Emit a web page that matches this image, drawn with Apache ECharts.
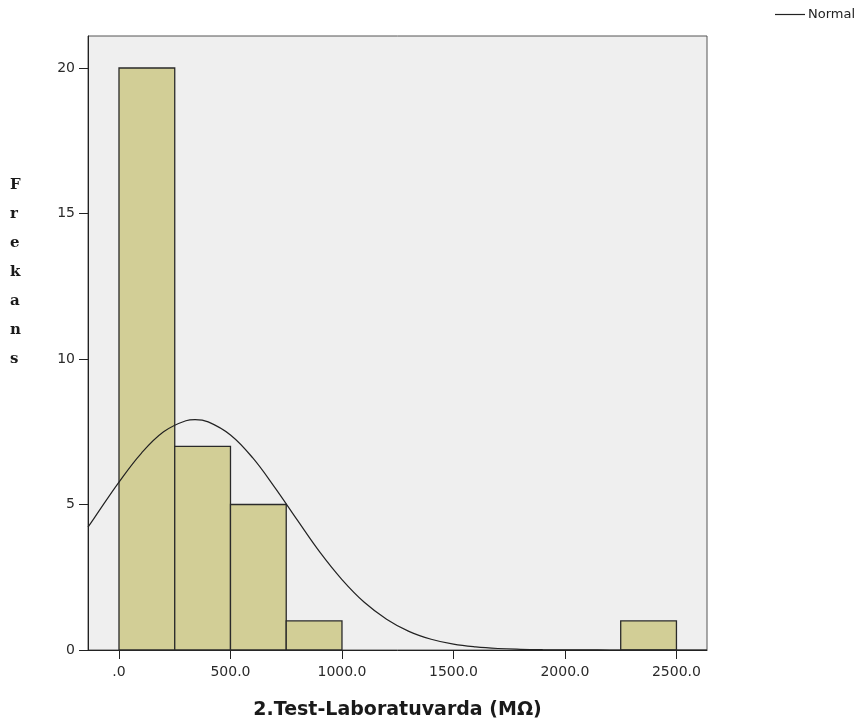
<!DOCTYPE html>
<html><head><meta charset="utf-8">
<script src="https://cdn.jsdelivr.net/npm/echarts@6/dist/echarts.min.js"></script>
<style>html,body{margin:0;padding:0;background:#fff}#c{width:856px;height:724px}</style>
</head><body><div id="c"></div>
<script>
// Histogram bins (MΩ) and frequencies
var binStart = [0, 250, 500, 750, 2250];
var binEnd   = [250, 500, 750, 1000, 2500];
var counts   = [20, 7, 5, 1, 1];
// Normal curve
var curveX = [-139, -100, 0, 100, 200, 300, 341, 400, 500, 600, 700, 800, 900, 1000, 1100, 1200, 1300, 1400, 1500, 1600, 1700, 1800, 1900, 2000, 2100, 2200, 2400, 2637];
var curveY = [4.22, 4.66, 5.77, 6.76, 7.50, 7.88, 7.92, 7.84, 7.39, 6.60, 5.57, 4.46, 3.37, 2.42, 1.64, 1.06, 0.64, 0.37, 0.20, 0.105, 0.051, 0.024, 0.010, 0.004, 0.0016, 0.0006, 0.0001, 0];
var xTicks = [0, 500, 1000, 1500, 2000, 2500];
var yTicks = [0, 5, 10, 15, 20];

var FONT = 'DejaVu Sans, Liberation Sans, Arial, sans-serif';
var chart = echarts.init(document.getElementById('c'));
var barData = binStart.map(function(s, i){ return [s, binEnd[i], counts[i]]; });
var lineData = curveX.map(function(x, i){ return [x, curveY[i]]; });

chart.setOption({
  animation: false,
  grid: {left: 88, right: 149, top: 36, bottom: 74, show: true, backgroundColor: '#efefef', borderColor: '#555', borderWidth: 1, outerBoundsMode: 'none', containLabel: false},
  legend: {
    data: [{name: 'Normal', icon: 'rect'}],
    left: 775, top: 8, padding: 0, itemWidth: 30, itemHeight: 1.2, itemGap: 4,
    textStyle: {fontFamily: FONT, fontSize: 13, color: '#222', padding: [0,0,0,-2]}
  },
  xAxis: {
    type: 'value', min: -139, max: 2637,
    name: '2.Test-Laboratuvarda (MΩ)', nameLocation: 'middle', nameGap: 51,
    nameTextStyle: {fontFamily: FONT, fontWeight: 'bold', fontSize: 19, color: '#1a1a1a'},
    axisLine: {show: true, onZero: false, lineStyle: {color: '#222', width: 1}},
    axisTick: {show: true, customValues: xTicks, length: 9, lineStyle: {color: '#222'}},
    axisLabel: {customValues: xTicks, margin: 15, fontFamily: FONT, fontSize: 14, color: '#2a2a2a',
      formatter: function(v){ return v === 0 ? '.0' : v.toFixed(1); }},
    splitLine: {show: false}
  },
  yAxis: {
    type: 'value', min: 0, max: 21.1,
    axisLine: {show: true, onZero: false, lineStyle: {color: '#222', width: 1}},
    axisTick: {show: true, customValues: yTicks, length: 9, lineStyle: {color: '#222'}},
    axisLabel: {customValues: yTicks, margin: 13, fontFamily: FONT, fontSize: 14, color: '#2a2a2a'},
    splitLine: {show: false}
  },
  graphic: [{
    type: 'text', left: 10, top: 171,
    style: {text: 'F\nr\ne\nk\na\nn\ns', fontFamily: 'DejaVu Serif, Liberation Serif, serif', fontWeight: 'bold', fontSize: 15, lineHeight: 29, fill: '#1a1a1a', align: 'center'}
  }],
  series: [{
    type: 'custom',
    name: 'hist',
    data: barData,
    renderItem: function(params, api){
      var p0 = api.coord([api.value(0), api.value(2)]);
      var p1 = api.coord([api.value(1), 0]);
      return {type: 'rect', shape: {x: p0[0], y: p0[1], width: p1[0]-p0[0], height: p1[1]-p0[1]},
        style: {fill: '#d2ce96', stroke: '#2a2a2a', lineWidth: 1.3}};
    },
    encode: {x: [0, 1], y: 2},
    silent: true
  }, {
    type: 'line', name: 'Normal', data: lineData, smooth: 0.4, showSymbol: false,
    itemStyle: {color: '#222'},
    lineStyle: {color: '#222', width: 1.2}, clip: true, z: 5
  }]
});
</script></body></html>
